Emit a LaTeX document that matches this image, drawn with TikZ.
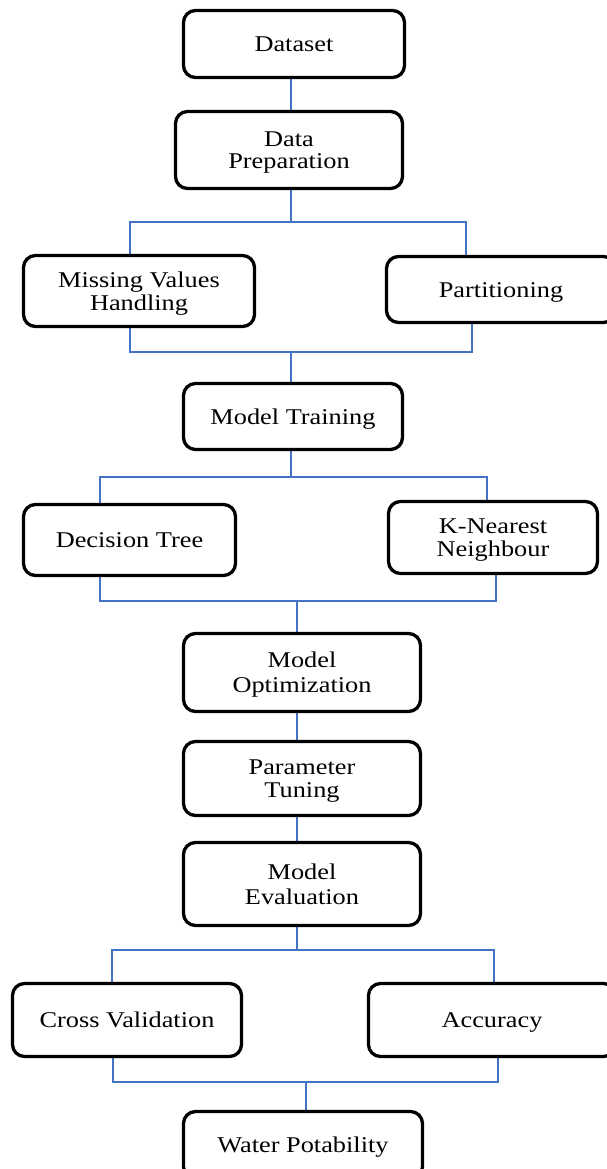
\documentclass[tikz,border=0pt]{standalone}
\usepackage{fontspec}
\setmainfont{Liberation Serif}[FakeStretch=1.17]
\pgfdeclarelayer{bg}
\pgfsetlayers{bg,main}
\definecolor{connblue}{RGB}{68,114,196}
\begin{document}
\begin{tikzpicture}[x=1pt,y=-1pt,
  box/.style={draw=black, line width=3.3pt, rounded corners=12pt, fill=white,
    inner sep=0pt, outer sep=0pt, align=center,
    font=\fontsize{22.5}{23}\selectfont, text height=15pt, text depth=0pt},
  two/.style={text height=#1, text depth=0pt},
  conn/.style={draw=connblue, line width=1.3pt, line join=miter}]
\useasboundingbox (0,0) rectangle (607,1169);
\clip (0,0) rectangle (607,1169);
% boxes
\node[box, minimum width=221pt, minimum height=67pt] (ds)   at (294,44)    {Dataset};
\node[box, two=36pt, minimum width=227pt, minimum height=77pt] (dp)   at (289,150)   {Data\\[-2pt]Preparation};
\node[box, two=38pt, minimum width=231pt, minimum height=71pt] (mvh)  at (139,291)   {Missing Values\\Handling};
\node[box, minimum width=229pt, minimum height=66pt] (part) at (501,289.5) {Partitioning};
\node[box, minimum width=219pt, minimum height=66pt] (mt)   at (293,416.5) {Model Training};
\node[box, minimum width=212pt, minimum height=71pt] (dt)   at (129.5,540) {Decision Tree};
\node[box, two=38pt, minimum width=209pt, minimum height=72pt] (knn)  at (493,537.5) {K-Nearest\\Neighbour};
\node[box, two=40pt, minimum width=237pt, minimum height=78pt] (mo)   at (302,672.5) {Model\\[2pt]Optimization};
\node[box, two=38pt, minimum width=237pt, minimum height=74pt] (pt)   at (302,778.5) {Parameter\\Tuning};
\node[box, two=40pt, minimum width=237pt, minimum height=83pt] (me)   at (302,884)   {Model\\[2pt]Evaluation};
\node[box, minimum width=229pt, minimum height=73pt] (cv)   at (127,1020)  {Cross Validation};
\node[box, minimum width=247pt, minimum height=73pt] (acc)  at (492,1020)  {Accuracy};
\node[box, minimum width=239pt, minimum height=67pt] (wp)   at (303,1145)  {Water Potability};
% junction points
\coordinate (j1) at (291,222);
\coordinate (a1l) at (130,222);
\coordinate (a1r) at (466,222);
\coordinate (b1l) at (130,352);
\coordinate (b1r) at (472,352);
\coordinate (j2) at (291,352);
\coordinate (j3) at (291,477);
\coordinate (a2l) at (100,477);
\coordinate (a2r) at (487,477);
\coordinate (b2l) at (100,601);
\coordinate (b2r) at (496,601);
\coordinate (j4) at (297,601);
\coordinate (j5) at (297,950);
\coordinate (a3l) at (112,950);
\coordinate (a3r) at (494,950);
\coordinate (b3l) at (113,1082);
\coordinate (b3r) at (498,1082);
\coordinate (j6) at (306,1082);
\begin{pgfonlayer}{bg}
\fill[white] (0,0) rectangle (607,1169);
\draw[conn] (ds.south -| j1) -- (dp.north -| j1);
\draw[conn] (dp.south -| j1) -- (j1);
\draw[conn] (mvh.north -| a1l) -- (a1l) -- (a1r) -- (part.north -| a1r);
\draw[conn] (mvh.south -| b1l) -- (b1l) -- (b1r) -- (part.south -| b1r);
\draw[conn] (j2) -- (mt.north -| j2);
\draw[conn] (mt.south -| j3) -- (j3);
\draw[conn] (dt.north -| a2l) -- (a2l) -- (a2r) -- (knn.north -| a2r);
\draw[conn] (dt.south -| b2l) -- (b2l) -- (b2r) -- (knn.south -| b2r);
\draw[conn] (j4) -- (mo.north -| j4);
\draw[conn] (mo.south -| j4) -- (pt.north -| j4);
\draw[conn] (pt.south -| j4) -- (me.north -| j4);
\draw[conn] (me.south -| j5) -- (j5);
\draw[conn] (cv.north -| a3l) -- (a3l) -- (a3r) -- (acc.north -| a3r);
\draw[conn] (cv.south -| b3l) -- (b3l) -- (b3r) -- (acc.south -| b3r);
\draw[conn] (j6) -- (wp.north -| j6);
\end{pgfonlayer}
\end{tikzpicture}
\end{document}
